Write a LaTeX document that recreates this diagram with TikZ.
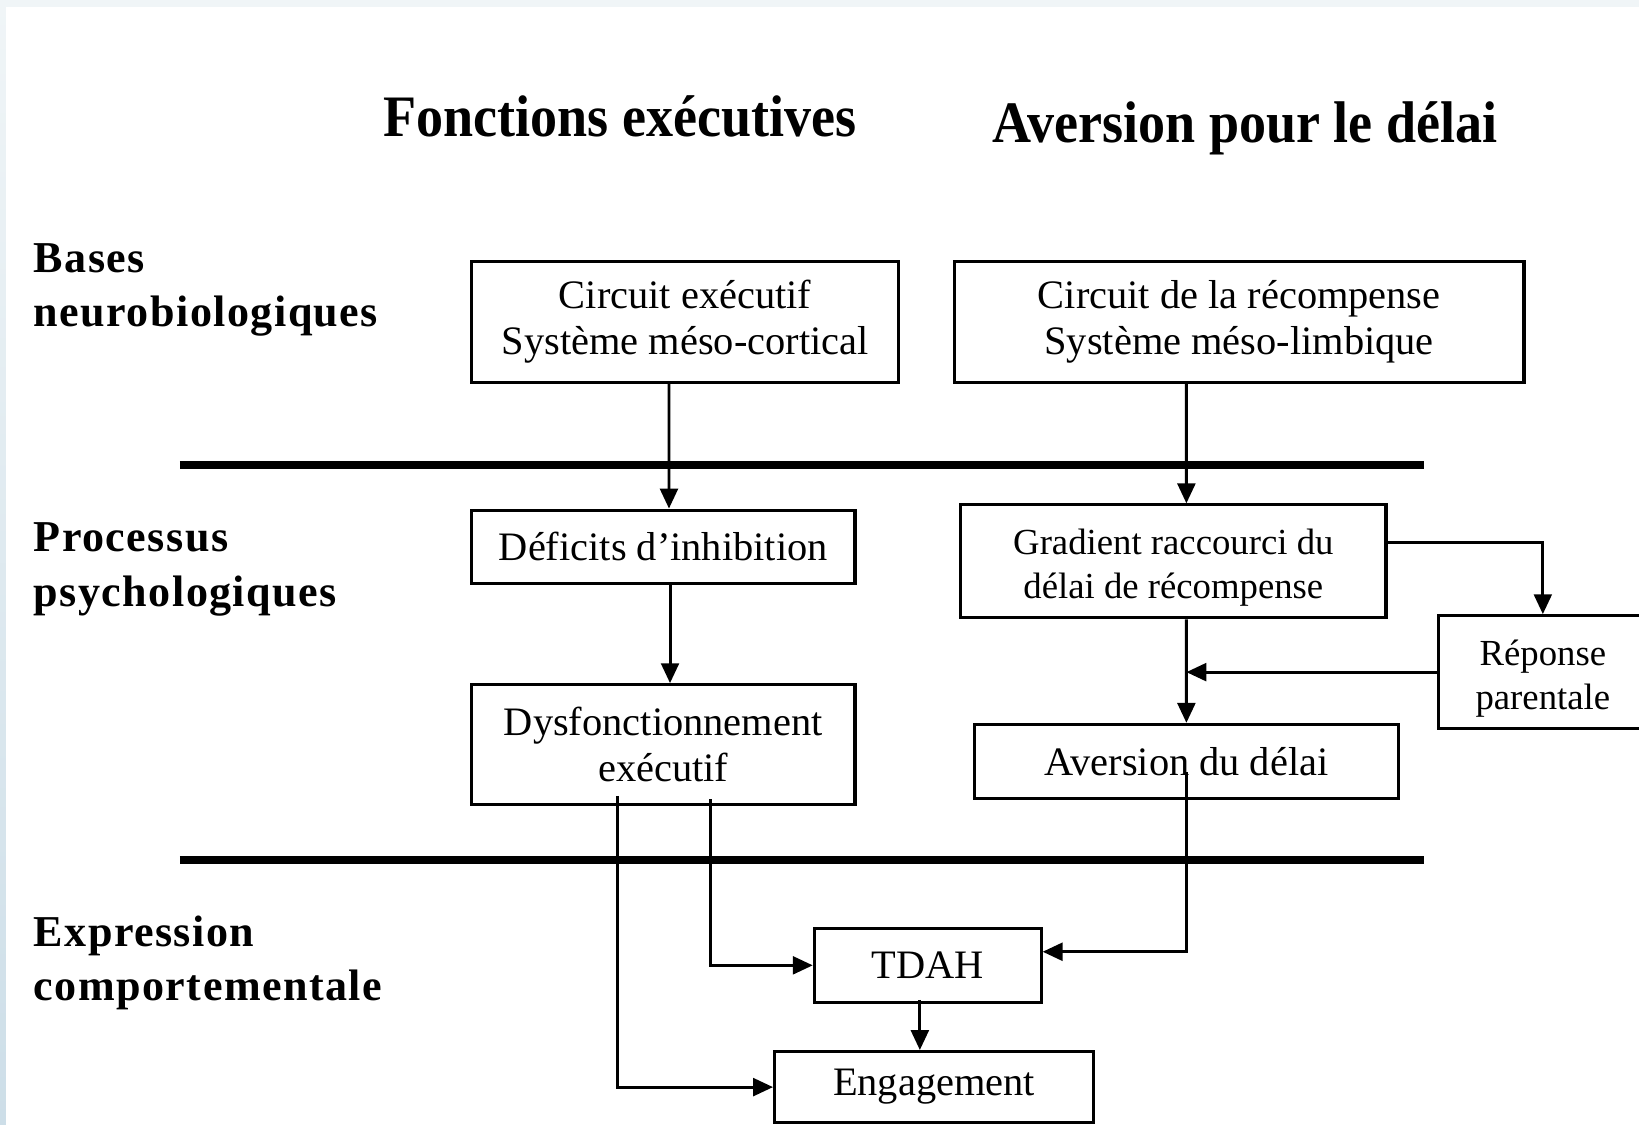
\documentclass[tikz,border=0pt]{standalone}
\usepackage{fontspec}
\setmainfont{Liberation Serif}
\newfontfamily\headfont[FakeStretch=0.92]{Liberation Serif}
\newfontfamily\levelfont[LetterSpace=3.3]{Liberation Serif}
\usetikzlibrary{arrows.meta}
\definecolor{pagerim}{RGB}{240,245,247}
\definecolor{pagerimlow}{RGB}{205,222,232}

\begin{document}
\begin{tikzpicture}[x=0.02cm, y=-0.02cm,
    box/.style={draw, line width=1.7pt, inner sep=0pt, align=center,
        font=\fontsize{22}{25}\selectfont},
    smallbox/.style={box, font=\fontsize{20}{24}\selectfont},
    arr/.style={line width=1.6pt, -{Triangle[length=0.38cm, width=0.34cm]}},
    level/.style={font=\levelfont\bfseries\fontsize{24}{29.5}\selectfont,
        align=left, anchor=north west, inner sep=0pt},
    heading/.style={font=\headfont\bfseries\fontsize{32}{36}\selectfont,
        anchor=base, inner sep=0pt},
    sep/.style={line width=4.4pt}]
    % Page with its pale rim
    \useasboundingbox (0,0) rectangle (1568,1076);
    \clip (0,0) rectangle (1568,1076);
    \fill[pagerim] (0,0) rectangle (1568,1076);
    \shade[top color=pagerim, bottom color=pagerimlow] (0,0) rectangle (6,1076);
    \fill[white] (6,7) rectangle (1568,1076);

    % Column headings
    \node[heading] (fexec) at (593,131) {Fonctions exécutives};
    \node[heading] (adelai) at (1191,136) {Aversion pour le délai};

    % Level labels
    \node[level] (bases) at (32,233) {Bases\\neurobiologiques};
    \node[level] (processus) at (32,500) {Processus\\psychologiques};
    \node[level] (expression) at (32,876) {Expression\\comportementale};

    % Separating rules
    \foreach \y in {445, 823}
        \draw[sep] (172,\y) -- (1362,\y);

    % Boxes
    \node[box, minimum width=8.18cm, minimum height=2.32cm] (circexec) at (655.5,308)
        {Circuit exécutif\\Système méso-cortical};
    \node[box, minimum width=10.9cm, minimum height=2.32cm] (circrec) at (1185.5,308)
        {Circuit de la récompense\\Système méso-limbique};
    \node[box, minimum width=7.34cm, minimum height=1.4cm] (deficit) at (634.5,523)
        {Déficits d’inhibition};
    \node[box, minimum width=7.34cm, minimum height=2.3cm] (dysf) at (634.5,712.5)
        {Dysfonctionnement\\exécutif};
    \node[smallbox, minimum width=8.14cm, minimum height=2.16cm] (gradient) at (1122.5,537)
        {\rule{0pt}{21pt}Gradient raccourci du\\délai de récompense};
    \node[smallbox, minimum width=4cm, minimum height=2.16cm] (reponse) at (1476,643)
        {\rule{0pt}{21pt}Réponse\\parentale};
    \node[box, minimum width=8.12cm, minimum height=1.42cm] (aversion) at (1135,728.5)
        {Aversion du délai};
    \node[box, minimum width=4.34cm, minimum height=1.42cm] (tdah) at (887.5,923.5)
        {TDAH};
    \node[box, minimum width=6.1cm, minimum height=1.36cm] (engage) at (893.5,1040)
        {Engagement};

    % Connectors
    \draw[arr] ([xshift=-0.31cm]circexec.south) -- ([xshift=0.11cm]deficit.north);
    \draw[arr] ([xshift=-1.01cm]circrec.south) -- ([xshift=0.25cm]gradient.north);
    \draw[arr] ([xshift=0.13cm]deficit.south) -- ([xshift=0.13cm]dysf.north);
    \draw[arr] ([xshift=0.25cm]gradient.south) -- (aversion.north);
    \draw[arr] ([yshift=0.36cm]gradient.east) -| (reponse.north);
    \draw[arr] (reponse.west) -- (reponse.west -| aversion.north);
    \draw[arr] ([xshift=0.91cm,yshift=0.14cm]dysf.south) |- (tdah.west);
    \draw[arr] ([xshift=-0.87cm,yshift=0.2cm]dysf.south) |- (engage.west);
    \draw[arr] ([yshift=-0.2cm]aversion.center) |- ([yshift=0.26cm]tdah.east);
    \draw[arr] ([xshift=-0.15cm,yshift=0.08cm]tdah.south) -- ([xshift=-0.15cm]tdah.south |- engage.north);
\end{tikzpicture}
\end{document}
